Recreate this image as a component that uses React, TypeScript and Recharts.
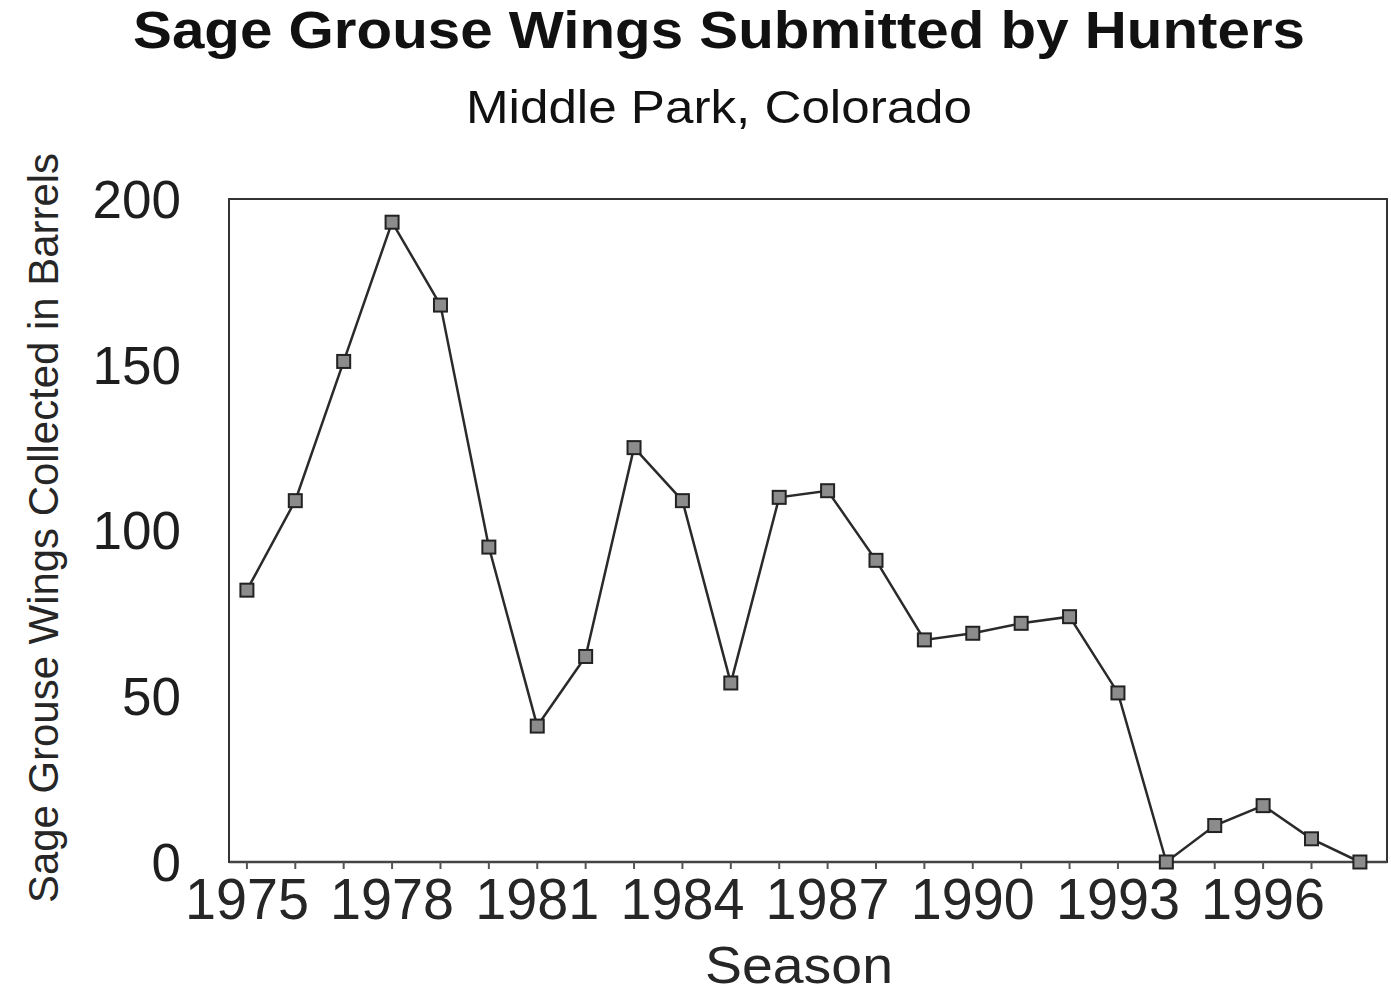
import { LineChart, Line, XAxis, YAxis, ReferenceArea } from 'recharts';

const seasons = [
  1975, 1976, 1977, 1978, 1979, 1980, 1981, 1982, 1983, 1984, 1985, 1986,
  1987, 1988, 1989, 1990, 1991, 1992, 1993, 1994, 1995, 1996, 1997, 1998,
];
const wings = [
  82, 109, 151, 193, 168, 95, 41, 62, 125, 109, 54, 110,
  112, 91, 67, 69, 72, 74, 51, 0, 11, 17, 7, 0,
];
const labeledSeasons = [1975, 1978, 1981, 1984, 1987, 1990, 1993, 1996];
const yTicks = [0, 50, 100, 150, 200];

const data = seasons.map((s, i) => ({ season: s, wings: wings[i] }));

const FONT = '"Liberation Sans", Arial, Helvetica, sans-serif';
const INK = '#1e1e1e';

// little square marker like the old spreadsheet plot
const SquareDot = (props: any) => {
  const { cx, cy, index } = props;
  if (cx == null || cy == null) return null;
  return (
    <rect
      key={`dot-${index}`}
      x={cx - 6.5}
      y={cy - 6.5}
      width={13}
      height={13}
      fill="#8c8c8c"
      stroke="#222"
      strokeWidth={2}
    />
  );
};

const SeasonTick = (props: any) => {
  const { x, payload } = props;
  if (!labeledSeasons.includes(payload.value)) return null;
  return (
    <text
      x={x}
      y={919}
      textAnchor="middle"
      fontFamily={FONT}
      fontSize={57}
      fill="#262626"
      textLength={124}
      lengthAdjust="spacingAndGlyphs"
    >
      {payload.value}
    </text>
  );
};

export default function App() {
  return (
    <div
      style={{
        position: 'absolute',
        left: 0,
        top: 0,
        width: 1391,
        height: 993,
        background: '#fff',
        fontFamily: FONT,
      }}
    >
      <LineChart
        width={1391}
        height={993}
        data={data}
        margin={{ top: 199, right: 4, left: 0, bottom: 0 }}
      >
        <ReferenceArea
          x1={1974.63}
          x2={1998.56}
          y1={0}
          y2={200}
          fill="none"
          stroke="#333"
          strokeWidth={2}
          ifOverflow="extendDomain"
        />
        <XAxis
          dataKey="season"
          type="number"
          domain={[1974.63, 1998.56]}
          allowDataOverflow
          ticks={seasons}
          interval={0}
          height={131}
          tickSize={7}
          tickLine={{ stroke: '#555', strokeWidth: 2 }}
          axisLine={{ stroke: '#444', strokeWidth: 2.5 }}
          tick={<SeasonTick />}
          label={{
            content: () => (
              <text
                x={799}
                y={983}
                textAnchor="middle"
                fontFamily={FONT}
                fontSize={52}
                fill="#262626"
                textLength={188}
                lengthAdjust="spacingAndGlyphs"
              >
                Season
              </text>
            ),
          }}
        />
        <YAxis
          type="number"
          domain={[0, 200]}
          ticks={yTicks}
          width={229}
          tickSize={0}
          tickMargin={48}
          axisLine={{ stroke: '#333', strokeWidth: 2 }}
          tick={{ fontSize: 53, fill: INK, fontFamily: FONT }}
          label={{
            content: () => (
              <text
                x={58}
                y={528}
                transform="rotate(-90 58 528)"
                textAnchor="middle"
                fontFamily={FONT}
                fontSize={42}
                fill="#262626"
                textLength={750}
                lengthAdjust="spacingAndGlyphs"
              >
                Sage Grouse Wings Collected in Barrels
              </text>
            ),
          }}
        />
        <Line
          type="linear"
          dataKey="wings"
          stroke="#2a2a2a"
          strokeWidth={2.5}
          dot={<SquareDot />}
          activeDot={false}
          isAnimationActive={false}
        />
      </LineChart>
      <svg
        width={1391}
        height={140}
        style={{ position: 'absolute', left: 0, top: 0, pointerEvents: 'none' }}
      >
        <text
          x={719}
          y={48}
          textAnchor="middle"
          fontFamily={FONT}
          fontWeight="bold"
          fontSize={51}
          fill="#111"
          textLength={1172}
          lengthAdjust="spacingAndGlyphs"
        >
          Sage Grouse Wings Submitted by Hunters
        </text>
        <text
          x={719}
          y={123}
          textAnchor="middle"
          fontFamily={FONT}
          fontSize={46}
          fill="#111"
          textLength={506}
          lengthAdjust="spacingAndGlyphs"
        >
          Middle Park, Colorado
        </text>
      </svg>
    </div>
  );
}
